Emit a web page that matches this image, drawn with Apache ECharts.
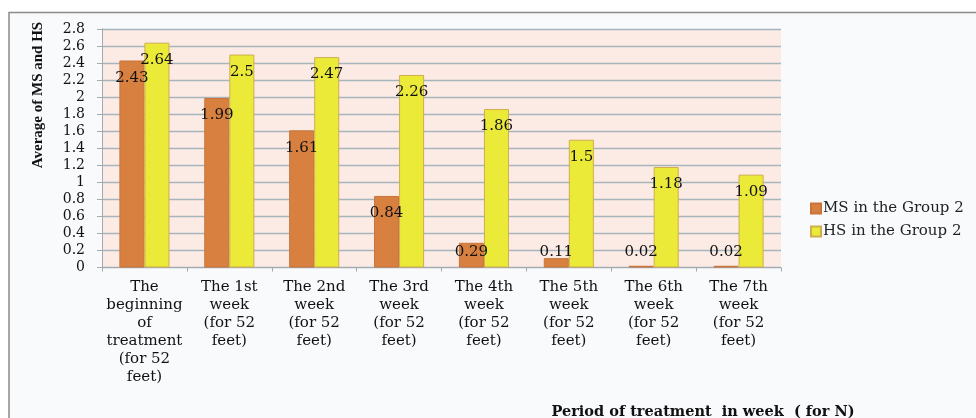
<!DOCTYPE html>
<html>
<head>
<meta charset="utf-8">
<script src="https://cdn.jsdelivr.net/npm/echarts@6/dist/echarts.min.js"></script>
<style>
  html, body { margin: 0; padding: 0; background: #ffffff; }
  #chart { width: 976px; height: 418px; }
</style>
</head>
<body>
<div id="chart"></div>
<script>
// periods of treatment (x axis)
var categories = [
  "The\nbeginning\nof\ntreatment\n(for 52\nfeet)",
  "The 1st\nweek\n(for 52\nfeet)",
  "The 2nd\nweek\n(for 52\nfeet)",
  "The 3rd\nweek\n(for 52\nfeet)",
  "The 4th\nweek\n(for 52\nfeet)",
  "The 5th\nweek\n(for 52\nfeet)",
  "The 6th\nweek\n(for 52\nfeet)",
  "The 7th\nweek\n(for 52\nfeet)"
];
var msValues = [2.43, 1.99, 1.61, 0.84, 0.29, 0.11, 0.02, 0.02];
var hsValues = [2.64, 2.5, 2.47, 2.26, 1.86, 1.5, 1.18, 1.09];
var seriesNames = ["MS in the Group 2", "HS in the Group 2"];
var yTitle = "Average of MS and HS";
var xTitle = "Period of treatment  in week  ( for N)";

var serif = "DejaVu Serif";

// short bars keep their label just above the axis, like the original
function withLabels(values) {
  return values.map(function (v) {
    if (v < 0.37) {
      return { value: v, label: { position: "insideBottom", distance: 8 } };
    }
    return v;
  });
}

var chart = echarts.init(document.getElementById("chart"));

chart.setOption({
  animation: false,
  backgroundColor: "#ffffff",
  graphic: [
    {
      type: "rect",
      z: -10,
      shape: { x: 9, y: 12.5, width: 1000, height: 420 },
      style: { fill: "#f9fafc", stroke: "#8a8a8a", lineWidth: 1.5 }
    },
    {
      type: "text",
      x: 38, y: 95,
      rotation: Math.PI / 2,
      style: {
        text: yTitle,
        font: "bold 15px 'Liberation Serif'",
        fill: "#111",
        align: "center",
        verticalAlign: "middle"
      }
    },
    {
      type: "text",
      x: 703, y: 412,
      style: {
        text: xTitle,
        font: "bold 14.5px 'DejaVu Serif'",
        fill: "#111",
        align: "center",
        verticalAlign: "middle"
      }
    }
  ],
  grid: {
    left: 102, right: 195, top: 29, bottom: 150.5,
    show: true, backgroundColor: "#fcebe5", borderWidth: 0
  },
  legend: {
    orient: "vertical",
    left: 805, top: 196,
    itemWidth: 10, itemHeight: 10,
    itemGap: 8,
    icon: "rect",
    textStyle: { fontFamily: serif, fontSize: 15, color: "#222", padding: [0, 0, 0, -3] },
    data: seriesNames
  },
  xAxis: {
    type: "category",
    data: categories,
    axisLine: { lineStyle: { color: "#a3a9ad", width: 1 } },
    axisTick: { show: true, length: 4, lineStyle: { color: "#a3a9ad" } },
    axisLabel: {
      interval: 0, margin: 11,
      fontFamily: serif, fontSize: 15, lineHeight: 18, color: "#111"
    }
  },
  yAxis: {
    type: "value",
    min: 0, max: 2.8, interval: 0.2,
    axisLine: { show: true, lineStyle: { color: "#a3a9ad" } },
    axisTick: { show: true, length: 5, lineStyle: { color: "#a3a9ad" } },
    axisLabel: { margin: 17, fontFamily: serif, fontSize: 14, color: "#111" },
    splitLine: { lineStyle: { color: "#a6b4bc", width: 1.4 } }
  },
  series: [
    {
      name: seriesNames[0],
      type: "bar",
      data: withLabels(msValues),
      barGap: "0%",
      barCategoryGap: "41%",
      itemStyle: { color: "#d8803f", borderColor: "#c9733a", borderWidth: 1 },
      label: {
        show: true, position: "insideTop", distance: 10,
        fontFamily: serif, fontSize: 15, color: "#111"
      }
    },
    {
      name: seriesNames[1],
      type: "bar",
      data: withLabels(hsValues),
      barGap: "0%",
      barCategoryGap: "41%",
      itemStyle: { color: "#ebea38", borderColor: "#cfae4c", borderWidth: 1 },
      label: {
        show: true, position: "insideTop", distance: 10,
        fontFamily: serif, fontSize: 15, color: "#111"
      }
    }
  ]
});
</script>
</body>
</html>
